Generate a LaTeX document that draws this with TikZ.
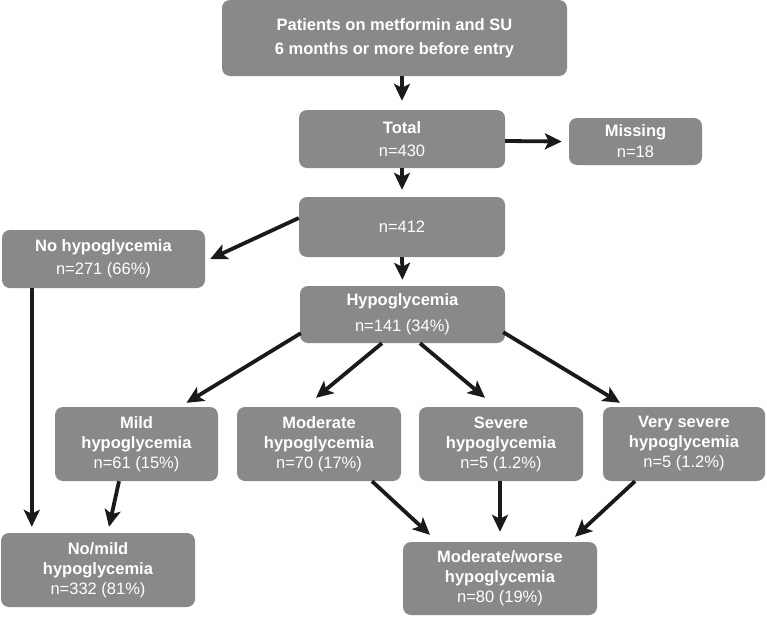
\documentclass[tikz,border=0pt]{standalone}
\usepackage{fontspec}
\setmainfont{Liberation Sans}
\usetikzlibrary{arrows.meta,calc}
\definecolor{boxgray}{HTML}{898989}
\definecolor{arrowblack}{HTML}{1A1A1A}
\begin{document}
\begin{tikzpicture}[x=1pt,y=-1pt,
  box/.style={fill=boxgray,draw=none,rounded corners=8pt,text=white,align=center,
    inner sep=0pt,font=\fontsize{16.5}{20}\selectfont},
  arr/.style={draw=arrowblack,line width=3.8pt,-{Stealth[length=17pt,width=16pt,inset=4pt]}}]
\useasboundingbox (0,0) rectangle (767,616);
\node[box,minimum width=345pt,minimum height=76pt] (top) at (394.5,38) {\textbf{Patients on metformin and SU}\\[4pt]\textbf{6 months or more before entry}};
\node[box,minimum width=206pt,minimum height=58pt] (total) at (402,139) {\textbf{Total}\\[3pt]n=430};
\node[box,minimum width=133pt,minimum height=47pt] (missing) at (635.5,141.5) {\textbf{Missing}\\[1pt]n=18};
\node[box,minimum width=206pt,minimum height=60pt] (n412) at (402,227) {n=412};
\node[box,minimum width=203pt,minimum height=58pt] (nohypo) at (103.5,259) {\textbf{No hypoglycemia}\\[3pt]n=271 (66\%)};
\node[box,minimum width=205pt,minimum height=57pt] (hypo) at (402.5,314.5) {\textbf{Hypoglycemia}\\[6pt]n=141 (34\%)};
\node[box,minimum width=163pt,minimum height=74pt] (mild) at (136.5,444) {\textbf{Mild}\\\textbf{hypoglycemia}\\n=61 (15\%)};
\node[box,minimum width=164pt,minimum height=74pt] (moderate) at (319,444) {\textbf{Moderate}\\\textbf{hypoglycemia}\\n=70 (17\%)};
\node[box,minimum width=164pt,minimum height=74pt] (severe) at (501,444) {\textbf{Severe}\\\textbf{hypoglycemia}\\n=5 (1.2\%)};
\node[box,minimum width=162pt,minimum height=74pt] (vsevere) at (684,444) {\textbf{Very severe}\\\textbf{hypoglycemia}\\n=5 (1.2\%)};
\node[box,minimum width=194pt,minimum height=74pt] (nomild) at (98,570) {\textbf{No/mild}\\\textbf{hypoglycemia}\\n=332 (81\%)};
\node[box,minimum width=194pt,minimum height=73pt] (modworse) at (500,578.5) {\textbf{Moderate/worse}\\\textbf{hypoglycemia}\\n=80 (19\%)};
% connectors
\draw[arr] (top.south -| total.north) -- ([yshift=9pt]total.north);
\draw[arr] ([yshift=-2pt]total.east) -- ([xshift=-7pt]missing.west);
\draw[arr] (total.south) -- ([yshift=7pt]n412.north);
\draw[arr] ([yshift=9pt]n412.west) -- ([xshift=5pt]nohypo.east);
\draw[arr] (n412.south) -- ([yshift=6pt]hypo.north);
\draw[arr] ([xshift=1pt,yshift=10pt]hypo.south west) -- ([xshift=50pt,yshift=4pt]mild.north);
\draw[arr] ([xshift=-20.5pt]hypo.south) -- ([xshift=-3pt,yshift=9pt]moderate.north);
\draw[arr] ([xshift=17.5pt]hypo.south) -- ([xshift=-16pt,yshift=9pt]severe.north);
\draw[arr] ([xshift=-2pt,yshift=11pt]hypo.south east) -- ([xshift=-64pt,yshift=4pt]vsevere.north);
\draw[arr] ([xshift=30pt]nohypo.south west) -- ([xshift=31pt,yshift=6pt]nomild.north west);
\draw[arr] ([xshift=-17.5pt]mild.south) -- ([xshift=11pt,yshift=6pt]nomild.north);
\draw[arr] ([xshift=53pt]moderate.south) -- ([xshift=-70pt,yshift=7pt]modworse.north);
\draw[arr] ([xshift=-1pt]severe.south) -- ([yshift=10pt]modworse.north);
\draw[arr] ([xshift=-49pt]vsevere.south) -- ([xshift=75pt,yshift=5pt]modworse.north);
\end{tikzpicture}
\end{document}
